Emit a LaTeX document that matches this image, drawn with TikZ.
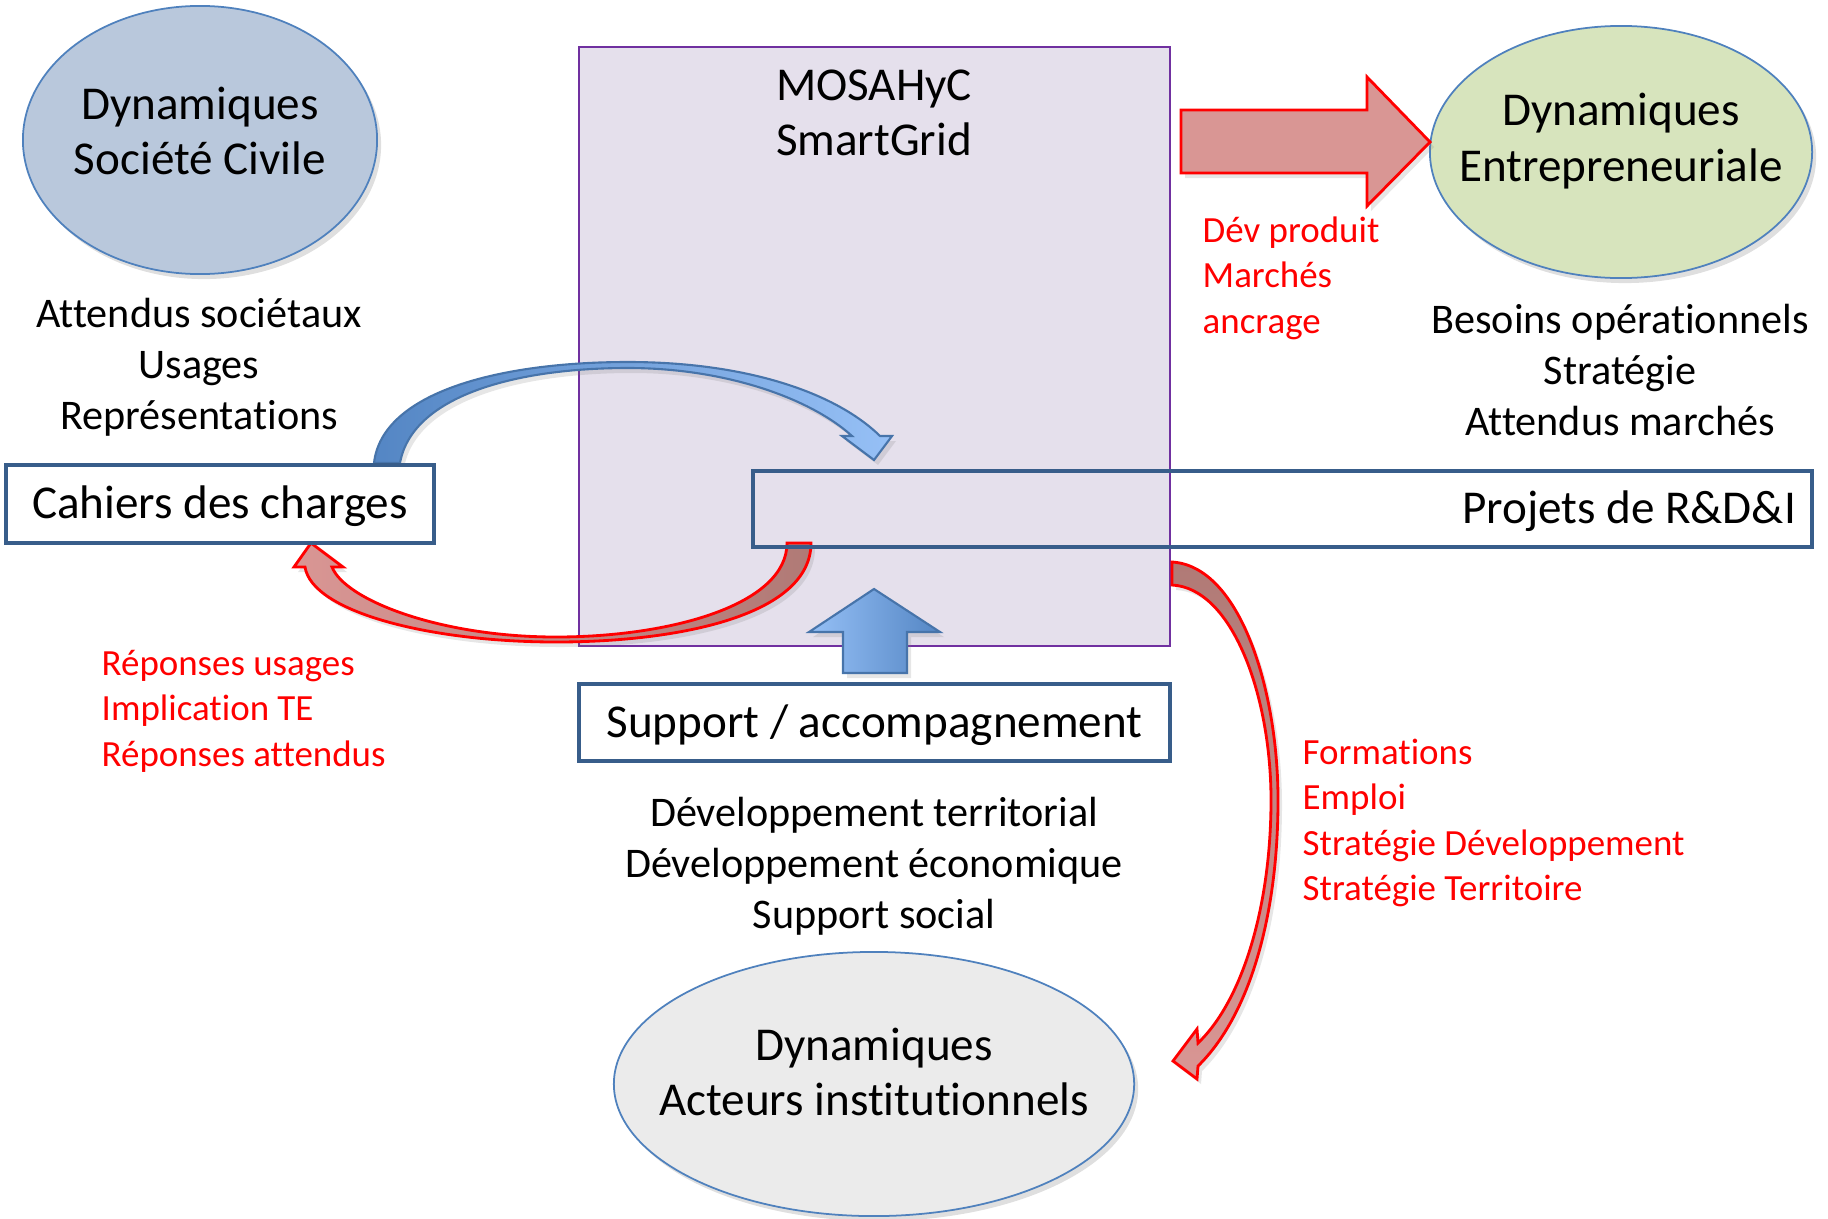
\documentclass[tikz,border=0pt]{standalone}
\usepackage{fontspec}
\setmainfont{Carlito}[Ligatures=NoCommon]
\usetikzlibrary{shapes.geometric,shadows}

\definecolor{lavande}{RGB}{229,224,236}
\definecolor{violetbord}{RGB}{112,48,160}
\definecolor{cadrebleu}{RGB}{56,93,138}
\definecolor{bordbleu}{RGB}{79,129,189}
\definecolor{civfond}{RGB}{185,200,220}
\definecolor{entfond}{RGB}{215,228,189}
\definecolor{instfond}{RGB}{235,235,235}
\definecolor{rosefond}{RGB}{217,150,148}
\definecolor{brunfond}{RGB}{176,122,118}
\definecolor{bleuclair}{RGB}{150,192,246}
\definecolor{bleufonce}{RGB}{84,134,196}

\newcommand{\grand}{\fontsize{13.4}{15.8}\selectfont}
\newcommand{\moyen}{\fontsize{12}{14.5}\selectfont}
\newcommand{\petit}{\fontsize{10.5}{12.9}\selectfont}

\begin{document}
\begin{tikzpicture}[x=0.01cm,y=-0.01cm,
	dyn/.style={ellipse,draw=bordbleu,line width=.5pt,inner sep=0pt,
		drop shadow={opacity=.25,shadow xshift=.04cm,shadow yshift=-.05cm}},
	cadre/.style={draw=cadrebleu,line width=1.1pt,inner sep=0pt,outer sep=0pt,text depth=1pt},
	liste/.style={align=center,font=\moyen},
	rouge/.style={align=left,font=\petit,text=red,anchor=west,inner sep=0pt},
	fleche/.style={draw=red,line width=.8pt,
		drop shadow={opacity=.2,shadow xshift=.04cm,shadow yshift=-.05cm}},
	flechebleue/.style={draw=bordbleu!90!black,line width=.6pt,
		drop shadow={opacity=.2,shadow xshift=.04cm,shadow yshift=-.05cm}}]
	\useasboundingbox (0,0) rectangle (1828,1218);

	% plateforme
	\node[draw=violetbord,fill=lavande,line width=.6pt,inner sep=0pt,outer sep=0pt,
		minimum width=5.91cm,minimum height=5.99cm] (mosa) at (874.5,346.5) {};
	\node[font=\grand,align=center] (mosanom) at (874,113) {MOSAHyC\\SmartGrid};

	% les trois dynamiques
	\node[dyn,fill=civfond,minimum width=3.54cm,minimum height=2.68cm] (civ) at (200,140) {};
	\node[font=\grand,align=center] (civnom) at ([yshift=.09cm]civ.center) {Dynamiques\\Société Civile};
	\node[dyn,fill=entfond,minimum width=3.82cm,minimum height=2.52cm] (ent) at (1621,152) {};
	\node[font=\grand,align=center] (entnom) at ([yshift=.11cm]ent.center) {Dynamiques\\Entrepreneuriale};
	\node[dyn,fill=instfond,minimum width=5.2cm,minimum height=2.64cm] (inst) at (874,1084) {};
	\node[font=\grand,align=center] (instnom) at ([yshift=.12cm]inst.center) {Dynamiques\\Acteurs institutionnels};

	% fleches courbes
	\draw[flechebleue,left color=bleufonce,right color=bleuclair]
		(374,463) .. controls (382,392) and (500,362) .. (628,362)
		.. controls (745,362) and (835,392) .. (880,436)
		-- (892,436) -- (874,460) -- (842,436) -- (852,436)
		.. controls (810,398) and (725,368) .. (628,368)
		.. controls (515,368) and (412,396) .. (400,463) -- cycle;
	\draw[fleche,left color=rosefond,right color=brunfond]
		(811,543) .. controls (811,615) and (680,642) .. (556,642)
		.. controls (430,642) and (312,612) .. (305,567)
		-- (294,567) -- (311,543) -- (343,567) -- (332,567)
		.. controls (345,600) and (440,637) .. (556,637)
		.. controls (670,637) and (787,605) .. (787,543) -- cycle;
	\draw[fleche,top color=brunfond,bottom color=rosefond]
		(1172,562) .. controls (1240,566) and (1278,690) .. (1278,800)
		.. controls (1278,915) and (1250,1015) .. (1198,1066)
		-- (1197,1079) -- (1173,1061) -- (1197,1029) -- (1198,1043)
		.. controls (1243,1000) and (1271,905) .. (1271,800)
		.. controls (1271,695) and (1232,588) .. (1172,585) -- cycle;

	% fleches droites
	\draw[fleche,fill=rosefond] (1181,110) -- (1367,110) -- (1367,77) -- (1430,142)
		-- (1367,206) -- (1367,173) -- (1181,173) -- cycle;
	\draw[flechebleue,left color=bleuclair,right color=bleufonce] (874,589) -- (940,632)
		-- (907,632) -- (907,673) -- (843,673) -- (843,632) -- (809,632) -- cycle;

	% cadres
	\node[cadre,fill=white,minimum width=4.28cm,minimum height=.78cm,font=\grand] (cdc) at (220,504) {Cahiers des charges};
	\node[cadre,minimum width=10.59cm,minimum height=.76cm] (rdi) at (1282.5,509) {};
	\node[font=\grand,anchor=east,text depth=1pt] (rdinom) at ([xshift=-.04cm]rdi.east) {Projets de R\&D\&I};
	\node[cadre,minimum width=5.91cm,minimum height=.77cm,font=\grand] (sup) at (874.5,722.5) {Support / accompagnement};

	% textes
	\node[liste] (civtxt) at (199,367) {Attendus sociétaux\\Usages\\Représentations};
	\node[liste] (enttxt) at (1620,370) {Besoins opérationnels\\Stratégie\\Attendus marchés};
	\node[liste] (suptxt) at (874,866) {Développement territorial\\Développement économique\\Support social};
	\node[rouge] (r1) at (1202,278) {Dév produit\\Marchés\\ancrage};
	\node[rouge] (r2) at (101,711) {Réponses usages\\Implication TE\\Réponses attendus};
	\node[rouge] (r3) at (1302,823) {Formations\\Emploi\\Stratégie Développement\\Stratégie Territoire};
\end{tikzpicture}
\end{document}
